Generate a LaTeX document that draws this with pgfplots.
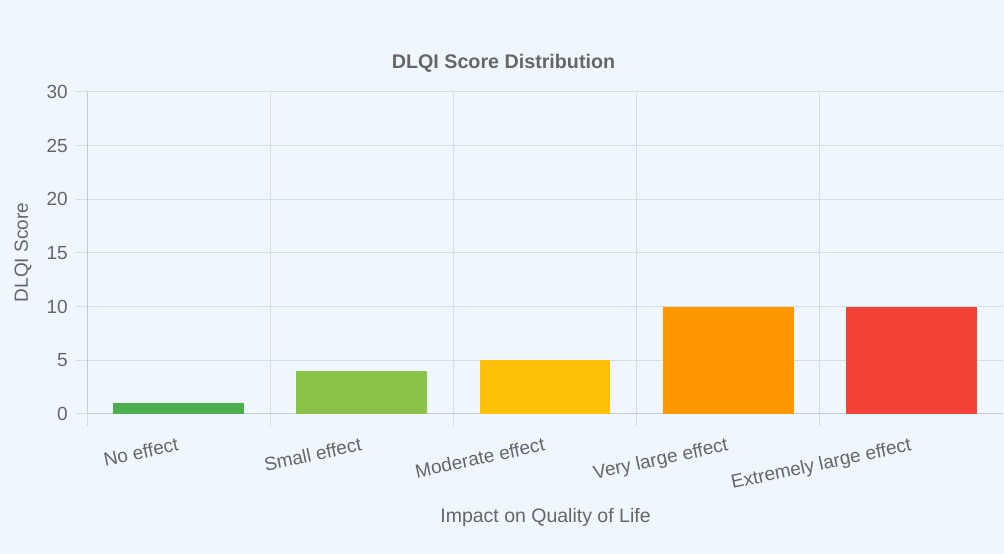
\documentclass[border=0pt]{standalone}
\usepackage{fontspec}
\setmainfont{Liberation Sans}
\usepackage{pgfplots}
\pgfplotsset{compat=1.18}
\definecolor{bg}{HTML}{F0F6FE}
\definecolor{gridc}{HTML}{D8DDE5}
\definecolor{axisc}{HTML}{C6CBD3}
\definecolor{txt}{HTML}{666666}
\definecolor{c1}{HTML}{4CAF50}
\definecolor{c2}{HTML}{8BC34A}
\definecolor{c3}{HTML}{FFC107}
\definecolor{c4}{HTML}{FF9800}
\definecolor{c5}{HTML}{F44336}
\begin{document}
\begin{tikzpicture}[x=1pt,y=1pt]
\fill[bg] (0,0) rectangle (1004,554);
\begin{axis}[
  at={(87pt,140pt)}, anchor=south west,
  width=916pt, height=322pt, scale only axis,
  xmin=0.5, xmax=5.5, ymin=0, ymax=30,
  ybar, bar width=0.715, bar shift=0pt,
  xtick={0.5,1.5,2.5,3.5,4.5},
  xticklabels={},
  xmajorgrids,
  extra x ticks={1,2,3,4,5},
  extra x tick labels={No effect, Small effect, Moderate effect, Very large effect, Extremely large effect},
  extra x tick style={grid=none, major tick length=0pt},
  ytick={0,5,...,30},
  ymajorgrids,
  tick style={draw=gridc, line width=1pt},
  tick align=outside, major tick length=12pt,
  grid style={draw=gridc, line width=1pt},
  axis x line*=bottom, axis y line*=left,
  axis line style={draw=axisc, line width=1pt, -},
  ticklabel style={font=\fontsize{19}{22}\selectfont, text=txt},
  /pgf/number format/assume math mode=true,
  yticklabel style={anchor=east, inner sep=0pt, xshift=-7pt},
  xticklabel style={anchor=north east, inner sep=0pt, yshift=-23pt, xshift=-2pt, rotate=12},
]
\addplot[fill=c1, draw=none] coordinates {(1,1)};
\addplot[fill=c2, draw=none] coordinates {(2,4)};
\addplot[fill=c3, draw=none] coordinates {(3,5)};
\addplot[fill=c4, draw=none] coordinates {(4,10)};
\addplot[fill=c5, draw=none] coordinates {(5,10)};
\end{axis}
\node[anchor=base, text=txt, font=\fontsize{19.7}{23}\selectfont\bfseries] at (503.5,485) {DLQI Score Distribution};
\node[anchor=base, text=txt, rotate=90, font=\fontsize{19}{22}\selectfont] at (28,301.5) {DLQI Score};
\node[anchor=base, text=txt, font=\fontsize{19.5}{22}\selectfont] at (545.5,31) {Impact on Quality of Life};
\pgfresetboundingbox
\useasboundingbox (0,0) rectangle (1004,554);
\end{tikzpicture}
\end{document}
